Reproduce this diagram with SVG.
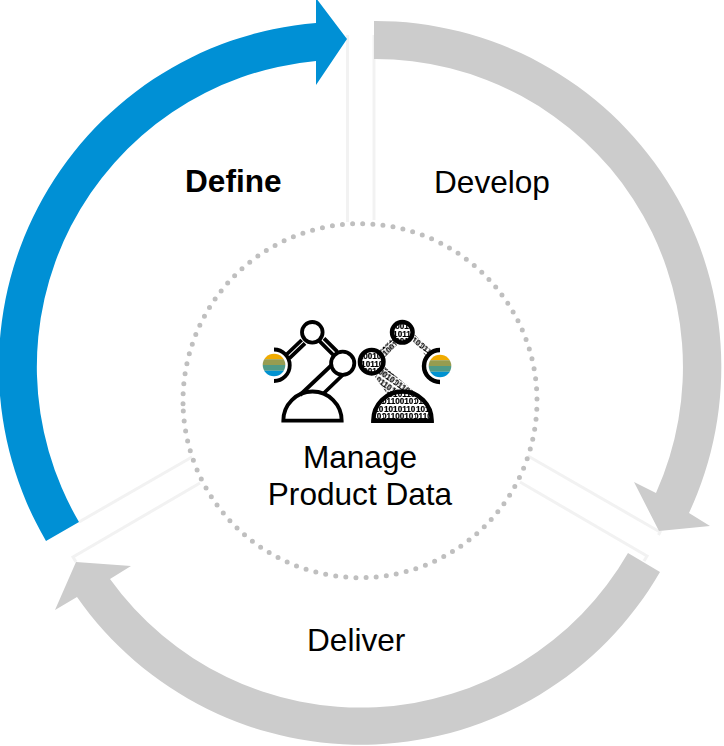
<svg xmlns="http://www.w3.org/2000/svg" width="724" height="746" viewBox="0 0 724 746">
<style>
.lbl{font-family:"Liberation Sans",Arial,sans-serif;font-size:31.6px;fill:#000}
.sep{fill:none;stroke:#f2f2f2;stroke-width:3}
.ln{fill:none;stroke:#000;stroke-width:3.8}
.ln2{fill:none;stroke:#000;stroke-width:4.4}
.bin{font-family:"Liberation Sans",Arial,sans-serif;font-size:8.2px;font-weight:bold;fill:#000;stroke:#000;stroke-width:.2}
</style>
<defs>
<g id="ball">
<rect x="-12" y="-12" width="24" height="6.2" fill="#f0ab00"/>
<rect x="-12" y="-5.8" width="24" height="5.8" fill="#969c50"/>
<rect x="-12" y="0" width="24" height="5.8" fill="#4f9a87"/>
<rect x="-12" y="5.8" width="24" height="6.2" fill="#0092d1"/>
</g>
<clipPath id="ballClip"><circle r="11.3"/></clipPath>
<pattern id="binary" patternUnits="userSpaceOnUse" width="32" height="15">
<text class="bin" x="0" y="6.5">1010110</text>
<text class="bin" x="-2" y="14">01100101</text>
</pattern>
<pattern id="binaryUp" patternUnits="userSpaceOnUse" width="32" height="15" patternTransform="rotate(-43)">
<text class="bin" x="0" y="6.5">1010110</text>
<text class="bin" x="-2" y="14">01100101</text>
</pattern>
<pattern id="binaryDown" patternUnits="userSpaceOnUse" width="32" height="15" patternTransform="rotate(35)">
<text class="bin" x="0" y="6.5">1010110</text>
<text class="bin" x="-2" y="14">01100101</text>
</pattern>
</defs>
<g id="connectors">
<path class="sep" d="M347.500,35V222"/>
<path class="sep" d="M374,35V220"/>
<path class="sep" d="M528,456L660,532L658.500,535"/>
<path class="sep" d="M520,482L647,556L644,561"/>
<path class="sep" d="M79,522L192,457"/>
<path class="sep" d="M200,483L73,557L76,562"/>
<path id="arrow-define" fill="#0090d5" d="M46,541A345,345 0 0 1 316,23L316,-2L347,39L316,85L316,61A307,307 0 0 0 79,522Z"/>
<path id="arrow-develop" fill="#cccccc" d="M374,21A346,346 0 0 1 689,513L710,526L659,531L634,482L656,493A308,308 0 0 0 374,59Z"/>
<path id="arrow-deliver" fill="#cccccc" d="M660,572A346,346 0 0 1 77,597L55,610L76,562L131,566L110,579A308.500,308.500 0 0 0 628,553Z"/>
</g>
<g id="node-define"><text class="lbl" x="185" y="192" font-weight="bold">Define</text></g>
<g id="node-develop"><text class="lbl" x="434" y="193">Develop</text></g>
<g id="node-deliver"><text class="lbl" x="307" y="651">Deliver</text></g>
<g id="node-manage">
<path d="M183.300,411A177,177 0 1 0 183,400A177,177 0 0 0 183.300,411" fill="none" stroke="#bfbfbf" stroke-width="5" stroke-linecap="round" stroke-dasharray="0 10.13"/>
<text class="lbl" x="360" y="468" text-anchor="middle">Manage</text>
<text class="lbl" x="360" y="505" text-anchor="middle">Product Data</text>
<g id="robot-left">
<path class="ln" d="M301.700,340L286,355M305,343.300L289.300,358.300M319,340.700L333.300,355M324,338.300L337.300,351.700M331.700,365L300,395M342.700,375L324,393"/>
<circle class="ln" cx="312.300" cy="332.300" r="10.300" style="fill:#fff"/>
<circle class="ln" cx="342.700" cy="363.300" r="11.600" style="fill:#fff"/>
<path class="ln" d="M283.300,420.700A29.200,29.200 0 0 1 341.700,420.700Z"/>
<path class="ln" d="M274,349.500A15.700,15.700 0 0 1 274,381"/>
<g transform="translate(274 365)" clip-path="url(#ballClip)"><use href="#ball"/></g>
</g>
<g id="robot-right">
<path fill="url(#binaryUp)" d="M378,352L392,338L397,345L384,358Z"/>
<path fill="url(#binaryDown)" d="M411,339L415,335L431,350L426,356Z"/>
<path fill="url(#binaryDown)" d="M385,367L375,377L388,395L415,392Z"/>
<path fill="url(#binary)" d="M373.300,420.700A29.200,29.200 0 0 1 431.700,420.700Z"/>
<circle cx="402.300" cy="332.300" r="10.300" style="fill:#fff"/>
<circle cx="371.700" cy="361.700" r="11.800" style="fill:#fff"/>
<circle cx="402.300" cy="332.300" r="10.300" fill="url(#binary)"/>
<circle cx="371.700" cy="361.700" r="11.800" fill="url(#binary)"/>
<circle class="ln2" cx="402.300" cy="332.300" r="10.300"/>
<circle class="ln2" cx="371.700" cy="361.700" r="11.800"/>
<path class="ln2" d="M373.300,420.700A29.200,29.200 0 0 1 431.700,420.700Z"/>
<path class="ln2" d="M440,350A16,16 0 0 0 440,382"/>
<g transform="translate(440 366)" clip-path="url(#ballClip)"><use href="#ball"/></g>
</g>
</g>
</svg>
